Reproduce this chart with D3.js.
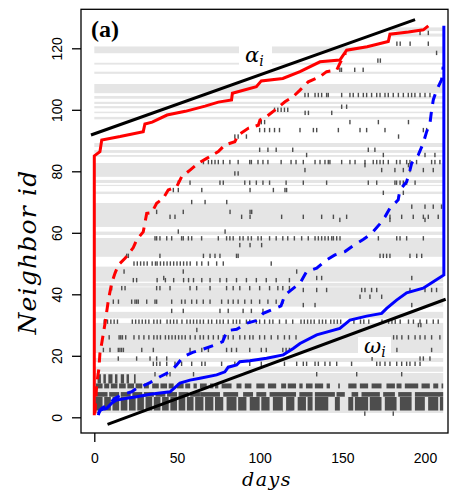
<!DOCTYPE html>
<html>
<head>
<meta charset="utf-8">
<script src="https://cdn.jsdelivr.net/npm/d3@7"></script>
<style>
  body { margin: 0; background: #fff; }
  svg { display: block; }
</style>
</head>
<body>
<div id="chart"></div>
<script>
// axis ticks
const xTicks = [0, 50, 100, 150, 200];
const yTicks = [0, 20, 40, 60, 80, 100, 120];

// trend lines for alpha_i and omega_i: [day, id]
const alphaLine = [[-2, 91.8], [194, 129.3]];
const omegaLine = [[8, -2.3], [212.5, 38.4]];

// red: cumulative first appearance (solid) and first contact (dashed)
const redSolid = [[0, 0.7], [0, 85], [3.4, 86.4], [4.5, 90.2], [15.6, 91.3], [29.6, 92.9], [30.6, 95.4],
  [35, 96], [44, 98.3], [55, 99.5], [67, 101.2], [75, 102.5], [83, 103.2], [83.5, 105.4], [98, 107.5],
  [101, 109.4], [114, 110.2], [124.4, 112.4], [136.5, 115.6], [148.5, 116.2], [152.6, 119.4],
  [165, 120.5], [177.8, 122.2], [178.8, 124.6], [190, 125.3], [199, 126], [202, 127.3]];
const redDashed = [[0.4, 1.3], [1.5, 11], [2.8, 15.9], [3.4, 20.8], [4.5, 24.1], [6.5, 30.6], [8.5, 38.1],
  [10.5, 43.6], [12.5, 46.8], [14.5, 49.5], [18.6, 51.7], [23.6, 55.2], [25.6, 57.7], [29.6, 60.3],
  [31.7, 66.3], [34.7, 66.5], [37.7, 69.6], [41.7, 71.2], [44.7, 73.9], [49.8, 75], [52.8, 78.2],
  [57.9, 80.4], [62.9, 82.6], [68, 84.2], [75, 86.4], [79, 88.6], [85, 89.6], [87, 91.8], [93.1, 94],
  [99.2, 95], [100.2, 96.7], [104.2, 97.8], [109.2, 99.9], [115.3, 102.6], [120.3, 104.3],
  [124.4, 106.4], [129.4, 109.1], [136.5, 110.8], [140.5, 112.4], [146.6, 112.9], [148.5, 115.1],
  [152, 118.5]];

// blue: cumulative last contact (dashed) and disappearance (solid)
const blueDashed = [[2.4, 1.3], [4.5, 2.9], [9.5, 4.6], [12.5, 6.2], [16.6, 7.3], [22.6, 8.3], [25.6, 9.4],
  [28.7, 10], [33.7, 11.3], [39.7, 13.2], [45.8, 14.8], [49.8, 17], [53.8, 19.7], [59.5, 21.1],
  [65.5, 22.1], [72.4, 23.4], [77.6, 24.6], [80.4, 28.2], [86.1, 28.6], [92.1, 30.6], [97.8, 31.4],
  [102.2, 33.8], [107.9, 35.1], [112.9, 36.2], [115.3, 39.8], [120.7, 42.1], [124.4, 43.6],
  [128.4, 47.4], [134.5, 48.5], [140.5, 51.2], [145.5, 52.8], [151.6, 53.9], [156.6, 55.8],
  [162.6, 57.8], [167.7, 59.8], [172.7, 62.9], [175.8, 65.2], [178.8, 68], [183.8, 70.7],
  [184.8, 73.9], [188.9, 76.6], [190.9, 80.4], [191.9, 82.6], [195.9, 85.3], [198.9, 89.1],
  [201, 92.9], [203, 95.6], [204, 99.9], [205, 103.2], [207, 106.4], [210, 109.7], [211, 114]];
const blueSolid = [[2.4, 0.7], [3.4, 2.4], [7.5, 2.9], [10.5, 4.6], [13.5, 5.6], [19.6, 6.2], [25.6, 6.7],
  [33.7, 7.5], [45.8, 8.3], [51.8, 11.1], [57.9, 12.1], [63.9, 12.7], [74, 13.8], [79, 14.8],
  [81, 16.3], [86.1, 17], [88, 18.1], [94.1, 18.4], [104.2, 19.2], [114.3, 20.3], [120.3, 22.4],
  [124.4, 24], [134.5, 26.8], [148.5, 28.9], [154.6, 31.6], [164.7, 32.9], [173.8, 33.8],
  [176.8, 35.4], [182.8, 38.1], [188.9, 40.5], [198.9, 42], [205, 44.1], [211.4, 46.3], [211.4, 127.3]];

// light gray neighbour bands: [idLow, idHigh, dayStart, dayEnd]
const grayBands = [
  [125.6, 126.8, 178, 211], [123.8, 124.8, 179, 211],
  [118.4, 120.6, 0, 211], [114.7, 115.3, 0, 211], [111.7, 112.4, 0, 211], [105.4, 108.4, 0, 211],
  [103.6, 104.5, 0, 211], [101.9, 102.6, 0, 211], [100.5, 101.2, 0, 211], [98.9, 99.4, 0, 211],
  [96.9, 97.7, 0, 211], [87.9, 89.2, 0, 211], [86, 86.9, 0, 211], [84.7, 85.3, 0, 211],
  [78.2, 82.7, 0, 211], [76.2, 77.2, 0, 211], [75.2, 75.6, 0, 211], [72.6, 73.4, 0, 211],
  [61.9, 69.7, 0, 211], [59.3, 60.4, 0, 211], [52.2, 58.3, 0, 211], [44.1, 49, 0, 211],
  [42.5, 43.7, 0, 211], [36, 42.3, 0, 211], [32.2, 34.3, 0, 211], [20.9, 30.7, 0, 211],
  [18, 19.3, 0, 211], [14.8, 16.5, 0, 211], [1.4, 14.4, 0, 211]];

// single contacts: [id, days]
const contactRows = [
  [125, [197, 202]],
  [121.5, [183, 185, 191, 202]],
  [118.5, [207]],
  [116, [171.5, 173]],
  [113, [148.5, 149.5, 157.5, 162.6]],
  [104.8, [127.4, 129.4, 133.5, 135.5, 137.5, 140.5, 141.5, 149.6, 154.6, 156.6, 159.7, 162.7, 164.7,
    167.7, 170.8, 172.8, 175.8, 177.8, 180.8, 183.9, 186.9, 189.9, 191.9, 193.9, 197, 200, 203]],
  [101, [149.6, 152.6]],
  [100, [109, 111, 113, 115, 117]],
  [99, [127.5, 129.5, 143.6]],
  [96, [101, 103, 154.6, 171.8, 190]],
  [93.4, [100, 103, 106, 109, 112, 124.4, 132.5, 134.5, 147.6, 160.7, 164.7, 175.8, 199, 201]],
  [91.3, [85, 87, 92, 184]],
  [87, [100, 105, 110, 120, 165.7, 169.7]],
  [85.3, [128.4, 174.8, 200, 206]],
  [83, [66, 69, 71, 73, 75, 78, 82, 87, 94, 95, 99, 102, 105, 113, 119, 122, 126.4, 133.5, 136.5, 139.5,
    141.5, 142.5, 149.6, 154.6, 157.7, 163.7, 168.7, 170.8, 172.8, 174.8, 177.8, 182.8, 184.9, 188.9,
    190.9, 194.9, 204, 206, 209]],
  [82, [163.7, 190]],
  [80.4, [127.4, 173.8, 181.8, 186.9, 190.9, 199, 205]],
  [79.3, [85, 87]],
  [76.3, [50.8, 57.9, 76, 78, 91, 94, 98, 102, 106, 116, 126.4, 140.5, 165.7, 170.8, 181.8, 182.8,
    184.9, 186.9, 188.9, 194]],
  [73.9, [47.8, 50.8, 65, 94.2, 108.3, 115.3, 116.3]],
  [73, [174.8, 186.9]],
  [71.3, [183.9]],
  [70, [58.9, 67, 80.1]],
  [68.5, [192, 200, 205, 210]],
  [66.8, [37.7, 53.8, 82.1, 94.2, 95.2]],
  [65.2, [45.8, 48.8, 89.1, 94.2, 113.3, 126.4, 137.5, 144.6, 152.6, 178.8, 185.9, 192.9, 199, 202, 208]],
  [64.2, [148.5, 178.8, 200]],
  [60.4, [50.8, 79.1]],
  [58.2, [36.7, 37.7, 39.7, 43.8, 46.8, 52.8, 53.8, 56.9, 58.9, 64.9, 75, 80, 82, 84, 88, 90, 93, 95, 99,
    101, 106, 110, 114, 117, 121, 125.4, 129.4, 133.5, 135.5, 137.5, 139.5, 141.5, 143.6, 144.6, 146.6,
    148.6, 171.8, 182.9, 184.9, 188.9, 199]],
  [56, [88, 94.2, 101.2]],
  [52.5, [19.6, 20.6, 39.7, 66, 70, 73, 76, 86, 87, 172.8, 174.8, 176.8, 178.8, 190.9, 195, 198]],
  [50, [24, 26, 28, 30, 32, 35, 37, 38, 40, 42, 44, 46, 48, 50, 52, 54, 56, 58, 62, 65, 69, 74, 78, 107]],
  [47.4, [18, 53.8, 122.4]],
  [45.3, [42, 134.5, 137.5, 192]],
  [44.6, [23.6, 25.6, 38, 43, 48, 54, 57, 60, 65, 70, 76, 80, 86, 92, 98, 104, 110, 118]],
  [42, [10.5, 16.6, 18.6, 37.7, 39.7, 45.8, 57.9, 61.9, 70, 80, 84, 88, 94, 100, 106, 111, 114, 118]],
  [41.4, [126.4, 134.5, 140.5, 161.7, 163.7, 167.7, 170.8, 190.9, 200, 204, 207]],
  [39.2, [160.7, 166.7, 173.8]],
  [37.6, [11.5, 14.6, 22.6, 24.6, 25.6, 26.6, 31.7, 36.7, 37.7, 46.8, 52.8, 54.9, 58.9, 61.9, 65.9, 70,
    77, 81, 84, 87, 91, 95, 100, 105, 110, 114]],
  [36.5, [126.4, 133.5, 192]],
  [34.6, [46.8, 53.8, 76, 81, 90, 95, 102]],
  [31.1, [6, 8, 10, 12, 14, 23, 25, 27, 29, 31, 33, 36, 38, 40, 44, 46, 48, 50, 53, 56, 58, 60, 62, 64,
    66, 69, 71, 74, 76, 78, 81, 84, 86, 88, 92, 94, 98, 100, 103, 106, 108, 112, 116, 120, 125, 127, 129,
    131, 133, 136, 138, 140, 143, 145, 147, 149, 157, 161, 163, 166, 174, 178, 180, 182, 185, 190, 193,
    197, 201, 205, 208]],
  [30, [196, 197.5]],
  [28.4, [62]],
  [26, [9, 15, 16, 17, 19, 24, 27, 30, 33, 36, 38, 40, 43, 45, 47, 49, 51, 53, 55, 58, 61, 64, 66, 69,
    72, 75, 78, 81, 84, 88, 91, 94, 96, 100, 103, 107, 111, 115, 118, 122, 181, 183, 186, 190, 194, 197,
    200, 204, 209]],
  [21.9, [5.5, 9.5, 14.5, 15.5, 16.5, 17.6, 28.7, 35.7, 57.9, 65, 69, 80, 83, 86, 94, 101, 104, 114, 116,
    118, 183, 204]],
  [19.1, [14.5, 25.6, 33.7, 37.7, 43.8, 168, 197, 199, 203]],
  [17.4, [35.7, 37.7, 39.7, 43.8, 48.8, 52.8, 58.9, 65, 67, 77, 85, 94, 101, 115, 122.4, 126.4, 128.4,
    133.5, 135.5, 139.5, 142.5, 146.6, 155.6, 170.8, 172.8, 175.8, 178.8, 182.9, 185.9, 188.9, 190.9,
    194, 197]],
  [14, [36.7, 43.8, 45.8, 60, 134.5, 158.7, 185.9]],
  [1.2, [163.6, 180.8]]
];

// dense contact runs near the bottom: [idLow, idHigh, [[dayStart, dayEnd], ...]]
const denseRuns = [
  [11, 14, [[2, 4], [5.5, 7], [8.5, 11], [12.5, 14], [16, 18], [19.5, 21], [24, 25]]],
  [9.4, 11, [[1, 5], [6, 9], [10, 14], [15, 19], [20, 24], [25, 29], [30, 33], [35, 39], [40, 44], [45, 48],
    [50, 54], [55, 58], [60, 62], [63.9, 68], [70, 72], [73, 75], [77, 83], [86, 89], [91, 95], [98, 103],
    [105, 110], [113, 116], [117, 122], [124, 126], [128, 132], [133.4, 138.4], [140.5, 142.5],
    [147.5, 148.5], [153.6, 158.6], [160.6, 165.6], [167.7, 173.7], [176.7, 181.8], [182.8, 185.8],
    [187.8, 195.9], [197.9, 202.9], [205, 208], [210, 211]]],
  [6.7, 8.2, [[0.5, 8], [9, 15], [16, 22], [23, 29], [30, 36], [37, 43], [44, 50], [51, 57], [58, 63.9],
    [64, 76], [78, 87], [90, 96], [98, 104], [106, 122], [124, 132], [133.4, 145.5], [146.5, 151.5],
    [155.6, 159.6], [161.6, 172.7], [174.7, 181.8], [183.8, 191.9], [193.9, 211]]],
  [2.2, 6.6, [[0.5, 5], [6, 10], [11, 15], [16, 20], [21, 25], [26, 30], [31, 35], [36, 40], [41, 45],
    [46, 50], [51, 55], [56, 60], [61, 66], [67, 72], [73, 78], [80, 86], [87, 92], [94, 100], [101, 106],
    [108, 114], [116, 121], [123, 128], [129, 132], [133.4, 141.5], [145.5, 148.5], [153.6, 156.6],
    [157.6, 165.6], [166.6, 173.7], [175.7, 182.8], [184.8, 191.9], [193.9, 199.9], [201.9, 208],
    [209, 211]]]
];

const W = 449, H = 495;
const box = {left: 81, right: 448, top: 9.3, bottom: 433};

const svg = d3.select("#chart")
              .append("svg")
              .attr("width", W)
              .attr("height", H);

const x = d3.scaleLinear().domain([0, 200]).range([94.3, 425]);
const y = d3.scaleLinear().domain([0, 120]).range([417.3, 48.3]);

// gray bands
svg.append("g")
   .selectAll("rect")
   .data(grayBands)
   .enter()
   .append("rect")
   .attr("x", d => x(d[2]))
   .attr("y", d => y(d[1]))
   .attr("width", d => x(d[3]) - x(d[2]))
   .attr("height", d => y(d[0]) - y(d[1]))
   .attr("fill", "#e5e5e5");

// dense contact runs
const runs = [];
denseRuns.forEach(r => r[2].forEach(s => runs.push([r[0], r[1], s[0], s[1]])));
svg.append("g")
   .selectAll("rect")
   .data(runs)
   .enter()
   .append("rect")
   .attr("x", d => x(d[2]))
   .attr("y", d => y(d[1]))
   .attr("width", d => Math.max(1.4, x(d[3]) - x(d[2])))
   .attr("height", d => y(d[0]) - y(d[1]))
   .attr("fill", "#4d4d4d");

// single contact ticks
const ticks = [];
contactRows.forEach(r => r[1].forEach(day => ticks.push([day, r[0]])));
svg.append("g")
   .selectAll("rect")
   .data(ticks)
   .enter()
   .append("rect")
   .attr("x", d => x(d[0]) - 0.7)
   .attr("y", d => y(d[1]) - 2.2)
   .attr("width", 1.4)
   .attr("height", 4.4)
   .attr("fill", "#4d4d4d");

const line = d3.line()
               .x(d => x(d[0]))
               .y(d => y(d[1]));

function drawLine(data, color, dash) {
    svg.append("path")
       .datum(data)
       .attr("fill", "none")
       .attr("stroke", color)
       .attr("stroke-width", 3)
       .attr("stroke-dasharray", dash || null)
       .attr("d", line);
}

drawLine(blueSolid, "#0000ff");
drawLine(blueDashed, "#0000ff", "10,8");
drawLine(redSolid, "#ff0000");
drawLine(redDashed, "#ff0000", "10,7");
drawLine(alphaLine, "#000");
drawLine(omegaLine, "#000");

// labels with white backing
function mathLabel(cx, cy, sym) {
    const g = svg.append("g");
    g.append("rect")
     .attr("x", cx - 16).attr("y", cy - 11)
     .attr("width", 33).attr("height", 20)
     .attr("fill", "#fff");
    const t = g.append("text")
               .attr("x", cx - 10).attr("y", cy + 5)
               .style("font-family", "'DejaVu Serif', serif")
               .style("font-style", "italic")
               .style("font-size", "21px");
    t.append("tspan").text(sym);
    t.append("tspan").attr("dy", 4).style("font-size", "14px").text("i");
}
mathLabel(255, 57, "α");
mathLabel(374, 348, "ω");

// box
svg.append("rect")
   .attr("x", box.left).attr("y", box.top)
   .attr("width", box.right - box.left).attr("height", box.bottom - box.top)
   .attr("fill", "none").attr("stroke", "#000").attr("stroke-width", 1.3);

// y axis
const yAxis = svg.append("g")
                 .attr("transform", `translate(${box.left},0)`)
                 .call(d3.axisLeft(y).tickValues(yTicks).tickSize(9).tickFormat(d3.format("d")));
yAxis.select(".domain").remove();
yAxis.selectAll(".tick line").attr("stroke-width", 1.3);
yAxis.selectAll(".tick text")
     .attr("transform", "rotate(-90)")
     .attr("x", 0).attr("y", -19.5).attr("dy", 0)
     .style("text-anchor", "middle")
     .style("font-family", "'Liberation Sans', Arial, sans-serif")
     .style("font-size", "14px")
     .attr("fill", "#000");

// x axis
const xAxis = svg.append("g")
                 .attr("transform", `translate(0,${box.bottom})`)
                 .call(d3.axisBottom(x).tickValues(xTicks).tickSize(9).tickFormat(d3.format("d")));
xAxis.select(".domain").remove();
xAxis.selectAll(".tick line").attr("stroke-width", 1.3).attr("opacity", d => d === 0 ? 1 : 0);
xAxis.selectAll(".tick text")
     .attr("y", 30).attr("dy", 0)
     .style("font-family", "'Liberation Sans', Arial, sans-serif")
     .style("font-size", "14px")
     .attr("fill", "#000");

// axis titles
svg.append("text")
   .attr("x", 267).attr("y", 485.5)
   .attr("text-anchor", "middle")
   .style("font-family", "'DejaVu Serif', serif")
   .style("font-style", "italic")
   .style("font-size", "19px")
   .style("letter-spacing", "1.5px")
   .text("days");

svg.append("text")
   .attr("transform", "translate(36,252) rotate(-90)")
   .attr("text-anchor", "middle")
   .style("font-family", "'DejaVu Serif', serif")
   .style("font-style", "italic")
   .style("font-size", "25px")
   .style("letter-spacing", "1.2px")
   .text("Neighbor id");

svg.append("text")
   .attr("x", 91).attr("y", 37)
   .style("font-family", "'Liberation Serif', serif")
   .style("font-weight", "bold")
   .style("font-size", "24px")
   .text("(a)");
</script>
</body>
</html>
